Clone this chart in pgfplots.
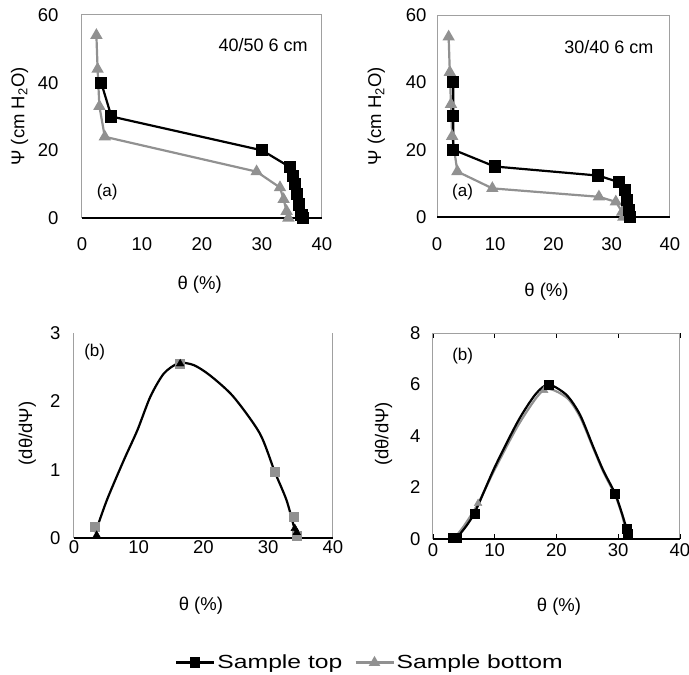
\documentclass[border=0pt]{standalone}
\usepackage{fontspec}
\setmainfont{Liberation Sans}
\newfontfamily\legendfont[FakeStretch=1.3]{Liberation Sans}
\usepackage{pgfplots}
\pgfplotsset{compat=1.18}

\definecolor{framegray}{RGB}{160,160,160}
\definecolor{sergray}{RGB}{145,145,145}

\tikzset{tag/.style={font=\fontsize{17}{19}\selectfont}}

\pgfplotsset{
  panel/.style={
    scale only axis, anchor=south west, clip=false,
    axis line style={draw=none},
    major tick length=0pt,
    xmin=0, xmax=40, xtick={0,10,20,30,40},
    tick label style={font=\fontsize{18.5}{20}\selectfont},
    label style={font=\fontsize{18.5}{20}\selectfont, anchor=center},
    /pgf/number format/assume math mode=true,
    xlabel={θ (\%)},
  },
  stop/.style={black, line width=2.2pt, mark=square*, mark size=5pt},
  sbot/.style={sergray, line width=2.2pt, mark=triangle*, mark size=5pt},
  curve/.style={line width=2.2pt, no markers, smooth, tension=0.45},
}

\begin{document}
\begin{tikzpicture}
\useasboundingbox (0,0) rectangle (689pt,675pt);

% (a) 40/50 6 cm
\begin{axis}[panel, at={(82pt,457pt)}, width=240pt, height=203pt,
  ymin=0, ymax=60, ytick={0,20,40,60},
  yticklabel style={xshift=-20pt}, xticklabel style={yshift=-16pt},
  ylabel={Ψ (cm H\textsubscript{2}O)},
  xlabel style={at={(axis description cs:0.49,-0.33)}},
  ylabel style={at={(axis description cs:-0.26,0.5)}}]
  \draw[framegray, line width=1pt] (rel axis cs:0,0) rectangle (rel axis cs:1,1);
  \draw[black, line width=1.3pt] (rel axis cs:0,0) -- (rel axis cs:1,0);
  \addplot[sbot] coordinates {(2.4,54) (2.6,44) (2.9,33) (3.8,24) (29.1,13.7) (33,9) (33.6,5.5) (34.1,2) (34.4,0)};
  \addplot[stop] coordinates {(3.2,40) (4.9,30) (30,20) (34.7,15) (35.2,12.5) (35.5,10) (35.8,7) (36.2,4) (36.6,1) (36.8,0)};
  \node[font=\fontsize{18}{20}\selectfont] at (axis cs:30.2,51) {40/50 6 cm};
  \node[tag] at (axis cs:4.2,7.7) {(a)};
\end{axis}

% (a) 30/40 6 cm
\begin{axis}[panel, at={(437pt,458pt)}, width=233pt, height=202pt,
  ymin=0, ymax=60, ytick={0,20,40,60},
  yticklabel style={xshift=-7pt}, xticklabel style={yshift=-17pt},
  ylabel={Ψ (cm H\textsubscript{2}O)},
  xlabel style={at={(axis description cs:0.47,-0.37)}},
  ylabel style={at={(axis description cs:-0.26,0.5)}}]
  \draw[framegray, line width=1pt] (rel axis cs:0,0) rectangle (rel axis cs:1,1);
  \draw[black, line width=1.3pt] (rel axis cs:0,0) -- (rel axis cs:1,0);
  \addplot[sbot] coordinates {(2.0,53.5) (2.2,43) (2.4,33.5) (2.6,24) (3.5,13.5) (9.5,8.5) (27.8,6) (30.7,4.5) (31.8,1.5) (32,0)};
  \addplot[stop] coordinates {(2.8,40) (2.8,30) (2.8,20) (9.9,15) (27.7,12.3) (31.3,10.3) (32.3,8) (32.6,5) (32.9,2) (33.2,0)};
  \node[font=\fontsize{18}{20}\selectfont] at (axis cs:29.5,50.5) {30/40 6 cm};
  \node[tag] at (axis cs:4.4,7.4) {(a)};
\end{axis}

% (b) 40/50
\begin{axis}[panel, at={(74pt,137pt)}, width=259pt, height=205pt,
  ymin=0, ymax=3, ytick={0,1,2,3},
  yticklabel style={xshift=-10pt}, xticklabel style={yshift=1pt},
  ylabel={(dθ/dΨ)},
  xlabel style={at={(axis description cs:0.49,-0.33)}},
  ylabel style={at={(axis description cs:-0.18,0.51)}}]
  \draw[framegray, line width=1pt] (rel axis cs:0,0) -- (rel axis cs:0,1);
  \draw[framegray, line width=1pt] (rel axis cs:1,0) -- (rel axis cs:1,1);
  \draw[black, line width=1.3pt] (rel axis cs:0,0) -- (rel axis cs:1,0);
  \addplot[curve, black] coordinates {(3.3,0.08) (5.1,0.56) (7.7,1.14) (9.8,1.58) (11.8,2.07) (13.9,2.41) (16.2,2.56) (18.5,2.53) (21,2.38) (24.6,2.07) (28.7,1.53) (31,0.97) (32.8,0.56) (33.9,0.19) (34.4,0.02)};
  \addplot[only marks, sergray, mark=square*, mark size=4.5pt] coordinates {(3.2,0.17) (16.3,2.55) (31,0.97) (33.9,0.31) (34.4,0.04)};
  \addplot[only marks, black, mark=triangle*, mark size=4.5pt] coordinates {(3.5,0.04) (16.4,2.55) (34.1,0.14) (34.4,0.08)};
  \node[tag] at (axis cs:3.2,2.72) {(b)};
\end{axis}

% (b) 30/40
\begin{axis}[panel, at={(433pt,136pt)}, width=247pt, height=206pt,
  ymin=0, ymax=8, ytick={0,2,4,6,8},
  yticklabel style={xshift=-9pt}, xticklabel style={yshift=-1.5pt},
  xtick style={draw=black, line width=0.8pt}, xtick align=inside, major tick length=5pt,
  ytick style={draw=none},
  ylabel={(dθ/dΨ)},
  xlabel style={at={(axis description cs:0.51,-0.33)}},
  ylabel style={at={(axis description cs:-0.2,0.51)}},
  legend style={at={(axis description cs:-0.255,-0.6)}, anchor=center, draw=none, fill=none,
    legend columns=2, font=\legendfont\fontsize{19}{21}\selectfont,
    /tikz/every even column/.append style={column sep=10pt}},
  legend image code/.code={\draw[mark repeat=2, mark phase=2, #1] plot coordinates {(0pt,0pt) (19pt,0pt) (38pt,0pt)};}]
  \draw[framegray, line width=1pt] (rel axis cs:0,0) rectangle (rel axis cs:1,1);
  \draw[black, line width=1.3pt] (rel axis cs:0,0) -- (rel axis cs:1,0);
  \addplot[curve, sergray, forget plot] coordinates {(3.5,0.05) (5,0.5) (7.3,1.38) (10,2.7) (14,4.5) (18,5.8) (21.6,5.5) (23.8,4.75) (26,3.5) (27.6,2.6) (29.5,1.7) (30.6,0.95) (31.3,0.25)};
  \addplot[curve, black, forget plot] coordinates {(3.5,0.05) (4.5,0.23) (6.7,1.0) (10,2.79) (13.8,4.59) (16.6,5.62) (18.7,6.0) (21.6,5.6) (23.8,4.83) (26,3.55) (27.6,2.65) (29.5,1.76) (30.6,0.99) (31.5,0.28)};
  \addplot[only marks, sergray, mark=triangle*, mark size=4.5pt, forget plot] coordinates {(7.3,1.38) (18,5.77)};
  \addplot[only marks, black, mark=square*, mark size=4.5pt, forget plot] coordinates {(3.2,0.05) (3.9,0.05) (6.7,1.0) (18.7,6.0) (29.5,1.76) (31.3,0.4) (31.6,0.2)};
  \node[tag] at (axis cs:4.8,7.1) {(b)};
  \addlegendimage{black, line width=2.2pt, mark=square*, mark size=4pt}
  \addlegendentry{Sample top}
  \addlegendimage{sergray, line width=2.2pt, mark=triangle*, mark size=4.5pt}
  \addlegendentry{Sample bottom}
\end{axis}
\end{tikzpicture}
\end{document}
